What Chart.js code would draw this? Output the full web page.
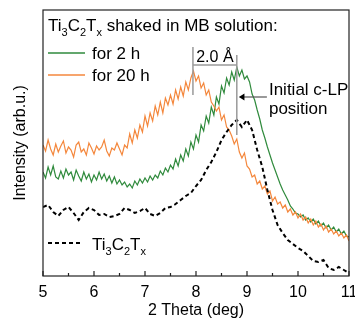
<!DOCTYPE html>
<html>
<head>
<meta charset="utf-8">
<script src="https://cdn.jsdelivr.net/npm/chart.js@4"></script>
<style>
  html, body { margin: 0; padding: 0; background: #fff; }
</style>
</head>
<body>
<canvas id="xrd" width="355" height="321"></canvas>
<script>
// 2 theta grid of the scans (deg)
const thetaFine = Array.from({ length: 121 }, (_, i) => +(5 + i * 0.05).toFixed(2));
const thetaCoarse = Array.from({ length: 61 }, (_, i) => +(5 + i * 0.1).toFixed(1));
const xTicks = [5, 6, 7, 8, 9, 10, 11];

// shaked in MB solution for 2 h
const mb2h = [
  104, 98, 109, 101, 110, 99, 97, 105, 98, 107,
  101, 104, 96, 106, 100, 95, 104, 97, 102, 94,
  101, 96, 104, 97, 102, 95, 100, 93, 99, 92,
  96, 91, 94, 89, 92, 88, 95, 91, 97, 93,
  98, 94, 100, 96, 101, 98, 105, 101, 108, 104,
  111, 107, 117, 110, 121, 115, 127, 120, 134, 127,
  141, 134, 151, 145, 160, 153, 169, 161, 179, 172,
  190, 183, 198, 191, 204, 196, 209, 200, 206, 197,
  200, 194, 182, 176, 166, 157, 146, 138, 129, 121,
  113, 106, 99, 92, 86, 81, 76, 70, 67, 63,
  62, 59, 61, 56, 58, 54, 57, 52, 55, 50,
  53, 48, 51, 46, 49, 44, 47, 42, 45, 40,
  39
];

// shaked in MB solution for 20 h
const mb20h = [
  131, 125, 136, 127, 121, 132, 124, 130, 135, 123,
  129, 126, 119, 131, 134, 124, 127, 121, 133, 128,
  122, 130, 126, 129, 136, 125, 120, 128, 126, 133,
  127, 121, 131, 128, 142, 133, 146, 138, 151, 144,
  160, 150, 163, 155, 170, 161, 174, 163, 178, 171,
  181, 172, 186, 177, 189, 180, 194, 186, 198, 205,
  195, 200, 188, 193, 181, 186, 174, 170, 165, 169,
  156, 161, 149, 146, 140, 132, 137, 124, 118, 123,
  110, 107, 99, 101, 92, 95, 87, 90, 82, 85,
  75, 79, 72, 74, 68, 71, 64, 67, 61, 64,
  58, 62, 56, 59, 53, 57, 51, 55, 49, 52,
  46, 50, 44, 47, 42, 45, 40, 43, 38, 41,
  35
];

// pristine Ti3C2Tx
const pristine = [
  69, 71, 64, 60, 66, 69, 63, 56, 64, 68,
  66, 61, 62, 59, 60, 62, 68, 66, 63, 65,
  68, 62, 60, 63, 68, 69, 72, 76, 80, 83,
  90, 96, 106, 114, 124, 136, 144, 151, 156, 149,
  156, 146, 126, 109, 86, 66, 51, 43, 36, 32,
  28, 25, 20, 15, 14, 16, 8, 6, 9, 6,
  3
];

const GREEN = '#2f8a3c';
const ORANGE = '#f4873c';
const FONT = "'Liberation Sans', Arial, sans-serif";

const pts = (xs, ys) => xs.map((v, i) => ({ x: v, y: ys[i] }));

// text with subscripts, parts = [[text, isSub], ...]
function richText(ctx, parts, x, base, size) {
  parts.forEach(([t, sub]) => {
    ctx.font = (sub ? Math.round(size * 0.65) : size) + 'px ' + FONT;
    ctx.fillText(t, x, sub ? base + 5 : base);
    x += ctx.measureText(t).width;
  });
}

const notes = {
  id: 'notes',
  afterDraw(chart) {
    const { ctx, chartArea: a, scales } = chart;
    const X = v => scales.x.getPixelForValue(v);
    const Y = v => scales.y.getPixelForValue(v);
    ctx.save();

    // frame + inward ticks
    ctx.strokeStyle = '#222';
    ctx.lineWidth = 1.2;
    ctx.strokeRect(a.left, a.top, a.right - a.left, a.bottom - a.top);
    ctx.beginPath();
    xTicks.forEach(t => {
      ctx.moveTo(X(t), a.bottom); ctx.lineTo(X(t), a.bottom - 5);
      if (t < 11) { ctx.moveTo(X(t + 0.5), a.bottom); ctx.lineTo(X(t + 0.5), a.bottom - 3); }
    });
    ctx.stroke();

    // legend
    ctx.fillStyle = '#000';
    ctx.textBaseline = 'alphabetic';
    richText(ctx, [['Ti', 0], ['3', 1], ['C', 0], ['2', 1], ['T', 0], ['x', 1], [' shaked in MB solution:', 0]], a.left + 5, a.top + 21, 17);
    ctx.lineWidth = 1.5;
    ctx.strokeStyle = GREEN;
    ctx.beginPath(); ctx.moveTo(a.left + 5, a.top + 43); ctx.lineTo(a.left + 42, a.top + 43); ctx.stroke();
    ctx.strokeStyle = ORANGE;
    ctx.beginPath(); ctx.moveTo(a.left + 5, a.top + 65); ctx.lineTo(a.left + 42, a.top + 65); ctx.stroke();
    ctx.font = '17px ' + FONT;
    ctx.fillText('for 2 h', a.left + 49, a.top + 49);
    ctx.fillText('for 20 h', a.left + 49, a.top + 71);
    ctx.strokeStyle = '#000';
    ctx.lineWidth = 2;
    ctx.setLineDash([4, 3]);
    ctx.beginPath(); ctx.moveTo(a.left + 5, a.top + 233); ctx.lineTo(a.left + 40, a.top + 233); ctx.stroke();
    ctx.setLineDash([]);
    richText(ctx, [['Ti', 0], ['3', 1], ['C', 0], ['2', 1], ['T', 0], ['x', 1]], a.left + 49, a.top + 240, 17);

    // 2.0 A bracket between the two peaks
    ctx.strokeStyle = '#9a9a9a';
    ctx.lineWidth = 1.5;
    ctx.beginPath();
    ctx.moveTo(X(7.94), Y(229)); ctx.lineTo(X(7.94), Y(181));
    ctx.moveTo(X(8.80), Y(221)); ctx.lineTo(X(8.80), Y(141));
    ctx.moveTo(X(7.94), Y(211)); ctx.lineTo(X(8.80), Y(211));
    ctx.stroke();
    ctx.font = '16px ' + FONT;
    ctx.textAlign = 'center';
    ctx.fillText('2.0 \u00c5', X(8.37), Y(214));

    // initial c-LP arrow
    ctx.strokeStyle = '#555';
    ctx.lineWidth = 1.2;
    ctx.beginPath(); ctx.moveTo(X(9.39), Y(179)); ctx.lineTo(X(8.92), Y(179)); ctx.stroke();
    ctx.fillStyle = '#000';
    ctx.beginPath();
    ctx.moveTo(X(8.84), Y(179));
    ctx.lineTo(X(8.95), Y(179) - 3.5);
    ctx.lineTo(X(8.95), Y(179) + 3.5);
    ctx.closePath(); ctx.fill();
    ctx.textAlign = 'left';
    ctx.font = '17px ' + FONT;
    ctx.fillText('Initial c-LP', X(9.43), Y(181));
    ctx.fillText('position', X(9.43), Y(162));
    ctx.restore();
  }
};

new Chart(document.getElementById('xrd'), {
  type: 'line',
  data: {
    datasets: [
      { label: 'Ti3C2Tx', data: pts(thetaCoarse, pristine), borderColor: '#000', borderWidth: 2, borderDash: [4, 3] },
      { label: 'for 20 h', data: pts(thetaFine, mb20h), borderColor: ORANGE, borderWidth: 1.2 },
      { label: 'for 2 h', data: pts(thetaFine, mb2h), borderColor: GREEN, borderWidth: 1.2 }
    ]
  },
  options: {
    responsive: false,
    animation: false,
    devicePixelRatio: 1,
    layout: { padding: { top: 10, right: 6, left: 0, bottom: 0 } },
    elements: { point: { radius: 0 }, line: { tension: 0 } },
    plugins: { legend: { display: false }, tooltip: { enabled: false } },
    scales: {
      x: {
        type: 'linear', min: 5, max: 11,
        afterFit: s => { s.height = 45; s.paddingLeft = 0; s.paddingRight = 0; },
        afterBuildTicks: s => { s.ticks = xTicks.map(v => ({ value: v })); },
        grid: { display: false, drawTicks: false },
        border: { display: false },
        ticks: { color: '#000', font: { size: 16, family: FONT }, padding: 7, maxRotation: 0 },
        title: { display: true, text: '2 Theta (deg)', color: '#000', font: { size: 16, family: FONT }, padding: { top: 0, bottom: 1 } }
      },
      y: {
        min: 0, max: 266,
        afterFit: s => { s.width = 43; s.paddingTop = 0; s.paddingBottom = 0; },
        grid: { display: false, drawTicks: false },
        border: { display: false },
        ticks: { display: false },
        title: { display: true, text: 'Intensity (arb.u.)', color: '#000', font: { size: 16, family: FONT }, padding: { top: 11, bottom: 0 } }
      }
    }
  },
  plugins: [notes]
});
</script>
</body>
</html>
